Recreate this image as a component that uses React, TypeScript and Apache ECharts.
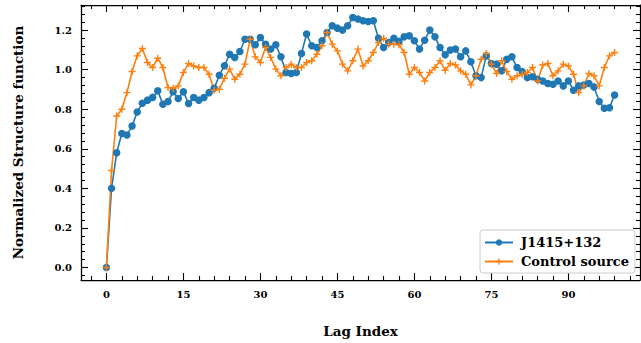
import React, { useEffect, useRef } from "react";
import * as echarts from "echarts";

const seriesNames = ["J1415+132", "Control source"];

const blueValues = [
  0.0, 0.4, 0.58, 0.677, 0.67, 0.715, 0.786, 0.83, 0.846, 0.86,
  0.893, 0.825, 0.839, 0.889, 0.854, 0.888, 0.829, 0.859, 0.846, 0.859,
  0.884, 0.906, 0.972, 1.02, 1.078, 1.062, 1.092, 1.154, 1.154, 1.126,
  1.163, 1.129, 1.104, 1.126, 1.065, 0.986, 0.981, 0.986, 1.082, 1.18,
  1.121, 1.112, 1.146, 1.188, 1.222, 1.21, 1.2, 1.222, 1.264, 1.256,
  1.247, 1.244, 1.247, 1.159, 1.112, 1.137, 1.159, 1.143, 1.166, 1.171,
  1.146, 1.104, 1.149, 1.2, 1.166, 1.112, 1.075, 1.099, 1.104, 1.065,
  1.095, 1.04, 0.969, 0.96, 1.07, 1.031, 1.028, 0.994, 1.053, 1.065,
  1.011, 0.99, 0.96, 0.964, 0.952, 0.943, 0.93, 0.926, 0.943, 0.918,
  0.943, 0.896, 0.918, 0.923, 0.93, 0.913, 0.839, 0.805, 0.808, 0.872,
];

const orangeValues = [
  0.0, 0.49, 0.766, 0.8, 0.884, 0.991, 1.07, 1.107, 1.036, 1.011,
  1.058, 1.011, 0.91, 0.906, 0.918, 0.986, 1.031, 1.019, 1.011, 1.011,
  0.977, 0.896, 0.901, 0.957, 1.003, 0.952, 0.977, 1.028, 1.154, 1.065,
  1.036, 1.112, 1.062, 1.003, 0.969, 1.011, 1.028, 1.011, 1.011, 1.036,
  1.045, 1.078, 1.121, 1.188, 1.129, 1.095, 1.028, 0.994, 1.045, 1.104,
  1.019, 1.045, 1.087, 1.137, 1.159, 1.129, 1.129, 1.126, 1.087, 0.977,
  1.011, 0.986, 0.943, 0.986, 1.011, 1.045, 0.997, 1.031, 1.024, 0.994,
  0.977, 0.923, 0.969, 1.053, 1.082, 1.028, 0.981, 1.045, 0.99, 0.952,
  0.969, 0.977, 0.986, 1.011, 0.943, 1.024, 1.031, 0.969, 0.994, 1.028,
  1.019, 0.977, 0.884, 0.918, 0.981, 0.969, 0.918, 1.011, 1.07, 1.087,
];

const xMajorTicks = [0, 15, 30, 45, 60, 75, 90];
const xMinorTicks = [-3, 3, 6, 9, 12, 18, 21, 24, 27, 33, 36, 39, 42, 48, 51, 54, 57, 63, 66, 69, 72, 78, 81, 84, 87, 93, 96, 99, 102];
const yMajorTicks = [0, 0.2, 0.4, 0.6, 0.8, 1.0, 1.2];
const yMinorTicks = [
  -0.04, 0.04, 0.08, 0.12, 0.16, 0.24, 0.28, 0.32, 0.36, 0.44, 0.48, 0.52, 0.56,
  0.64, 0.68, 0.72, 0.76, 0.84, 0.88, 0.92, 0.96, 1.04, 1.08, 1.12, 1.16, 1.24, 1.28, 1.32,
];

const X_MIN = -4.95;
const X_MAX = 103.95;
const Y_MIN = -0.0632;
const Y_MAX = 1.327;

const FONT = "DejaVu Serif";
const BLUE = "#1f77b4";
const ORANGE = "#ff7f0e";
const PLUS = "path://M-1,-5 L1,-5 L1,5 L-1,5 Z M-5,-1 L5,-1 L5,1 L-5,1 Z";

function tickAxis(kind: "x" | "y", position: string, ticks: number[], len: number, showLine: boolean, extra: any = {}) {
  return {
    type: "value",
    position,
    min: kind === "x" ? X_MIN : Y_MIN,
    max: kind === "x" ? X_MAX : Y_MAX,
    axisLine: { show: showLine, onZero: false, lineStyle: { color: "#000", width: 1.25 } },
    axisTick: { show: true, inside: true, length: len, customValues: ticks, lineStyle: { color: "#000", width: 1.1 } },
    axisLabel: { show: false },
    splitLine: { show: false },
    ...extra,
  };
}

export default function App() {
  const ref = useRef<HTMLDivElement>(null);
  useEffect(() => {
    if (!ref.current) return;
    const chart = echarts.init(ref.current, null, { renderer: "svg" });
    const labelStyle = { color: "#000", fontFamily: FONT, fontWeight: "bold", fontSize: 10 };
    const nameStyle = { color: "#000", fontFamily: FONT, fontWeight: "bold", fontSize: 13.5 };
    chart.setOption({
      animation: false,
      backgroundColor: "#fff",
      grid: { left: 81, top: 5, width: 559, height: 275, containLabel: false },
      xAxis: [
        tickAxis("x", "bottom", xMajorTicks, 7, true, {
          axisLabel: { show: true, customValues: xMajorTicks, margin: 9, ...labelStyle },
          name: "Lag Index",
          nameLocation: "middle",
          nameGap: 44,
          nameTextStyle: nameStyle,
        }),
        tickAxis("x", "bottom", xMinorTicks, 4, false),
        tickAxis("x", "top", xMajorTicks, 7, true),
        tickAxis("x", "top", xMinorTicks, 4, false),
      ],
      yAxis: [
        tickAxis("y", "left", yMajorTicks, 7, true, {
          axisLabel: {
            show: true,
            customValues: yMajorTicks,
            margin: 9,
            formatter: (v: number) => v.toFixed(1),
            ...labelStyle,
          },
          name: "Normalized Structure function",
          nameLocation: "middle",
          nameGap: 56,
          nameTextStyle: nameStyle,
        }),
        tickAxis("y", "left", yMinorTicks, 4, false),
        tickAxis("y", "right", yMajorTicks, 7, true),
        tickAxis("y", "right", yMinorTicks, 4, false),
      ],
      legend: {
        orient: "vertical",
        left: 480,
        top: 230,
        padding: [6, 6, 5, 4],
        itemWidth: 28,
        itemHeight: 8,
        itemGap: 6,
        backgroundColor: "rgba(255,255,255,0.8)",
        borderColor: "#cccccc",
        borderWidth: 1,
        borderRadius: 3,
        textStyle: { color: "#000", fontFamily: FONT, fontWeight: "bold", fontSize: 13, padding: [0, 0, 0, 3] },
        data: seriesNames,
      },
      series: [
        {
          name: seriesNames[0],
          type: "line",
          xAxisIndex: 0,
          yAxisIndex: 0,
          data: blueValues.map((v, i) => [i, v]),
          symbol: "circle",
          symbolSize: 7.5,
          showSymbol: true,
          showAllSymbol: true,
          lineStyle: { color: BLUE, width: 1.6 },
          itemStyle: { color: BLUE },
          emphasis: { disabled: true },
        },
        {
          name: seriesNames[1],
          type: "line",
          xAxisIndex: 0,
          yAxisIndex: 0,
          data: orangeValues.map((v, i) => [i, v]),
          symbol: PLUS,
          symbolSize: 7,
          showSymbol: true,
          showAllSymbol: true,
          lineStyle: { color: ORANGE, width: 1.6 },
          itemStyle: { color: ORANGE },
          emphasis: { disabled: true },
        },
      ],
    });
    return () => chart.dispose();
  }, []);
  return <div ref={ref} style={{ width: 641, height: 343, position: "absolute", left: 0, top: 0 }} />;
}
